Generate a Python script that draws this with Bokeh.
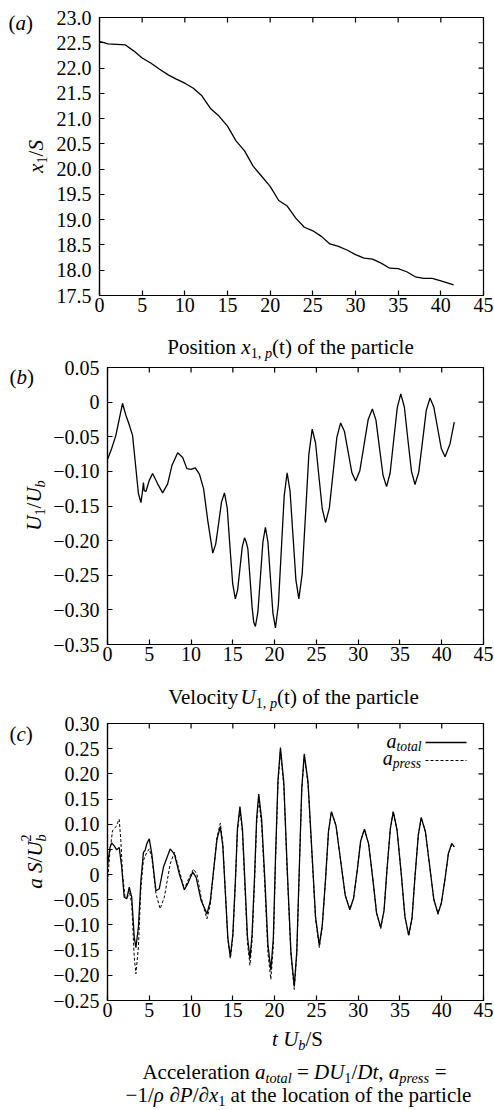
import math
from bokeh.plotting import figure
from bokeh.models import Range1d, FixedTicker, Label, Arrow
from bokeh.embed import file_html
from bokeh.resources import INLINE

FONT = "Liberation Serif"
PAGE_W, PAGE_H = 494, 1110

# ---------------- data ----------------
t_pos = [0, 1, 2, 3, 4, 5, 6, 7, 8, 9, 10, 11, 12, 13, 14, 15, 16, 17, 18, 19, 20,
         21, 22, 23, 24, 25, 26, 27, 28, 29, 30, 31, 32, 33, 34, 35, 36, 37, 38, 39, 40, 41.5]
x_pos = [22.53, 22.48, 22.47, 22.46, 22.34, 22.2, 22.1, 21.98, 21.87, 21.78, 21.7, 21.6,
         21.45, 21.2, 21.05, 20.85, 20.56, 20.36, 20.06, 19.86, 19.66, 19.38, 19.27, 19.03,
         18.85, 18.78, 18.67, 18.52, 18.47, 18.40, 18.31, 18.24, 18.22, 18.14, 18.04, 18.03,
         17.97, 17.87, 17.84, 17.84, 17.79, 17.71]

t_vel = [0, 0.5, 1, 1.5, 1.8, 2.2, 2.5, 3, 3.3, 3.7, 4.0, 4.2, 4.3, 4.4, 4.6, 5, 5.4, 6, 6.6,
         7.2, 7.7, 8.4, 9, 9.5, 10, 10.5, 11, 11.5, 12,
         12.6, 12.95, 13.3, 13.65, 14.0, 14.33, 14.65, 14.98, 15.3, 15.58, 15.85, 16.13, 16.4,
         16.6, 16.8, 17.0, 17.3, 17.5, 17.7, 18.0, 18.3, 18.6, 18.9, 19.2, 19.5, 19.8, 20.1,
         20.45, 20.8, 21.15, 21.5, 21.85, 22.2, 22.55, 22.9, 23.3, 23.7, 24.1, 24.5, 24.9,
         25.3, 25.7, 26.1, 26.55, 27.0, 27.45, 27.9, 28.35, 28.8, 29.25, 29.7, 30.2, 30.7,
         31.2, 31.7, 32.13, 32.55, 32.98, 33.4, 33.83, 34.25, 34.68, 35.1, 35.53, 35.95,
         36.38, 36.8, 37.25, 37.7, 38.15, 38.6, 39.05, 39.5, 39.95, 40.4, 41.0, 41.5]
u_vel = [-0.083, -0.067, -0.048, -0.019, -0.002, -0.019, -0.029, -0.048, -0.084, -0.132,
         -0.145, -0.128, -0.116, -0.128, -0.129, -0.113, -0.103, -0.118, -0.131, -0.118,
         -0.092, -0.073, -0.080, -0.096, -0.097, -0.095, -0.104, -0.125, -0.171,
         -0.218, -0.205, -0.175, -0.144, -0.131, -0.153, -0.208, -0.262, -0.284, -0.271,
         -0.240, -0.209, -0.196, -0.202, -0.212, -0.245, -0.295, -0.318, -0.324, -0.303,
         -0.253, -0.202, -0.181, -0.202, -0.254, -0.305, -0.326, -0.293, -0.214, -0.135,
         -0.102, -0.129, -0.193, -0.257, -0.284, -0.248, -0.162, -0.075, -0.039, -0.059,
         -0.107, -0.154, -0.174, -0.153, -0.102, -0.051, -0.030, -0.042, -0.072, -0.102,
         -0.114, -0.099, -0.062, -0.025, -0.010, -0.026, -0.066, -0.106, -0.122, -0.102,
         -0.055, -0.008, 0.012, -0.007, -0.054, -0.100, -0.119, -0.101, -0.057, -0.012,
         0.006, -0.007, -0.037, -0.067, -0.079, -0.060, -0.029]

t_tot = [0, 0.3, 0.5, 0.8, 1.1, 1.4, 1.7, 2.0, 2.3, 2.6, 2.9, 3.2, 3.4, 3.7, 4.0, 4.3, 4.5,
         4.7, 5.0, 5.3, 5.8, 6.2, 6.7, 7.5, 8.0, 8.6, 9.2, 9.6, 10.2, 10.6, 11.2,
         11.9, 12.3, 12.7, 13.1, 13.5, 13.8, 14.1, 14.4, 14.7, 15.0, 15.3, 15.55, 15.85,
         16.15, 16.45, 16.75, 17.05, 17.3, 17.6, 17.85, 18.1, 18.45, 18.85, 19.2, 19.55,
         19.85, 20.1, 20.4, 20.7, 21.1, 21.5, 21.95, 22.35, 22.65, 22.95, 23.25, 23.55,
         24.0, 24.45, 24.9, 25.35, 25.7, 26.1, 26.45, 26.8, 27.35, 27.9, 28.45, 29.0,
         29.45, 29.9, 30.3, 30.75, 31.25, 31.75, 32.2, 32.7, 33.1, 33.45, 33.85, 34.2,
         34.65, 35.15, 35.6, 36.05, 36.45, 36.8, 37.2, 37.55, 38.05, 38.55, 39.05, 39.55,
         39.95, 40.4, 40.8, 41.2, 41.5]
a_tot = [0.018, 0.054, 0.063, 0.057, 0.049, 0.054, 0.015, -0.045, -0.048, -0.025, -0.045,
         -0.124, -0.145, -0.104, -0.012, 0.044, 0.048, 0.061, 0.071, 0.041, -0.032, -0.028,
         0.015, 0.051, 0.041, 0.001, -0.030, -0.018, 0.005, -0.005, -0.051,
         -0.078, -0.053, 0.009, 0.070, 0.095, 0.057, -0.034, -0.125, -0.163, -0.119,
         -0.014, 0.091, 0.135, 0.091, -0.016, -0.123, -0.167, -0.119, -0.004, 0.112,
         0.160, 0.109, -0.015, -0.139, -0.190, -0.125, 0.031, 0.187, 0.252, 0.183,
         0.015, -0.153, -0.222, -0.154, 0.009, 0.172, 0.240, 0.184, 0.050, -0.084,
         -0.140, -0.101, -0.008, 0.086, 0.125, 0.097, 0.028, -0.041, -0.070, -0.047,
         0.010, 0.067, 0.090, 0.061, -0.008, -0.076, -0.105, -0.071, 0.010, 0.091,
         0.125, 0.089, 0.003, -0.084, -0.120, -0.086, -0.004, 0.079, 0.113, 0.085,
         0.018, -0.049, -0.077, -0.057, -0.008, 0.042, 0.062, 0.055]

t_prs = [0, 0.3, 0.6, 1.0, 1.4, 1.6, 1.8, 2.1, 2.4, 2.6, 2.9, 3.2, 3.4, 3.7, 4.0, 4.3, 4.7,
         5.0, 5.3, 5.8, 6.3, 6.8, 7.5, 8.0, 8.6, 9.2, 9.6, 10.3, 10.7, 11.2,
         11.9, 12.3, 12.7, 13.1, 13.5, 13.8, 14.1, 14.4, 14.7, 15.0, 15.3, 15.55, 15.85,
         16.15, 16.45, 16.75, 17.05, 17.3, 17.6, 17.85, 18.1, 18.45, 18.85, 19.2, 19.55,
         19.85, 20.1, 20.4, 20.7, 21.1, 21.5, 21.95, 22.35, 22.65, 22.95, 23.25, 23.55,
         24.0, 24.45, 24.9, 25.35, 25.7, 26.1, 26.45, 26.8, 27.35, 27.9, 28.45, 29.0,
         29.45, 29.9, 30.3, 30.75, 31.25, 31.75, 32.2, 32.7, 33.1, 33.45, 33.85, 34.2,
         34.65, 35.15, 35.6, 36.05, 36.45, 36.8, 37.2, 37.55, 38.05, 38.55, 39.05, 39.55,
         39.95, 40.4, 40.8, 41.2, 41.5]
a_prs = [-0.015, 0.047, 0.087, 0.095, 0.110, 0.067, 0.001, -0.045, -0.045, -0.032, -0.058,
         -0.164, -0.197, -0.144, -0.025, 0.028, 0.044, 0.051, 0.034, -0.038, -0.068, -0.045,
         0.021, 0.044, 0.008, -0.030, -0.012, 0.011, 0.001, -0.045,
         -0.088, -0.060, 0.007, 0.074, 0.102, 0.063, -0.033, -0.128, -0.167, -0.124,
         -0.020, 0.085, 0.128, 0.083, -0.026, -0.135, -0.180, -0.132, -0.015, 0.102,
         0.150, 0.098, -0.029, -0.156, -0.208, -0.142, 0.019, 0.179, 0.245, 0.176,
         0.009, -0.159, -0.228, -0.160, 0.004, 0.167, 0.235, 0.179, 0.045, -0.089,
         -0.145, -0.105, -0.010, 0.085, 0.125, 0.097, 0.028, -0.041, -0.068, -0.047,
         0.010, 0.067, 0.090, 0.061, -0.008, -0.076, -0.107, -0.071, 0.010, 0.091,
         0.125, 0.089, 0.003, -0.084, -0.122, -0.086, -0.004, 0.079, 0.113, 0.085,
         0.018, -0.049, -0.079, -0.057, -0.008, 0.042, 0.060, 0.055]

x_ticks = [0, 5, 10, 15, 20, 25, 30, 35, 40, 45]
ya_ticks = [17.5, 18.0, 18.5, 19.0, 19.5, 20.0, 20.5, 21.0, 21.5, 22.0, 22.5, 23.0]
ya_labels = ["17.5", "18.0", "18.5", "19.0", "19.5", "20.0", "20.5", "21.0", "21.5",
             "22.0", "22.5", "23.0"]
yb_ticks = [-0.35, -0.3, -0.25, -0.2, -0.15, -0.1, -0.05, 0, 0.05]
yb_labels = ["\u22120.35", "\u22120.30", "\u22120.25", "\u22120.20", "\u22120.15",
             "\u22120.10", "\u22120.05", "0", "0.05"]
yc_ticks = [-0.25, -0.2, -0.15, -0.1, -0.05, 0, 0.05, 0.1, 0.15, 0.2, 0.25, 0.3]
yc_labels = ["\u22120.25", "\u22120.20", "\u22120.15", "\u22120.10", "\u22120.05", "0",
             "0.05", "0.10", "0.15", "0.20", "0.25", "0.30"]

# ---------------- text metrics (Times-compatible) ----------------
RG = {' ': 250, '(': 333, ')': 333, ',': 250, '.': 250, '/': 278, '=': 564, '\u2212': 564,
      '\u2202': 494, 'A': 722, 'D': 722, 'P': 556, 'S': 556, 'U': 722, 'V': 722,
      'a': 444, 'b': 500, 'c': 444, 'd': 500, 'e': 444, 'f': 333, 'g': 500, 'h': 500,
      'i': 278, 'l': 278, 'm': 778, 'n': 500, 'o': 500, 'p': 500, 'r': 333, 's': 389,
      't': 278, 'u': 500, 'v': 500, 'x': 500, 'y': 500}
IT = {' ': 250, 'a': 500, 'b': 500, 'c': 444, 'e': 444, 'l': 278, 'o': 500, 'p': 500,
      'r': 389, 's': 389, 't': 278, 'x': 444, 'D': 722, 'P': 611, 'S': 500, 'U': 722,
      '\u03c1': 500}


def run_w(text, italic, size):
    tab = IT if italic else RG
    return sum(tab.get(c, 500) for c in text) * size / 1000.0


def rich(p, runs, X, Y, size, align="center", vertical=False):
    """Lay out styled runs at page position (X, Y) on the full-page overlay."""
    items = []
    for r in runs:
        text, kind = r[0], r[1]
        adv = r[2] if len(r) > 2 else True
        italic = kind in ("i", "subi")
        sz = size * 0.68 if kind in ("sub", "subi", "sup") else size
        shift = 0.0
        if kind in ("sub", "subi"):
            shift = 0.3 * size
        elif kind == "sup":
            shift = -0.42 * size
        items.append((text, italic, sz, shift, run_w(text, italic, sz), adv))
    W = sum(it[4] for it in items if it[5])
    pos = -W / 2 if align == "center" else (0 if align == "left" else -W)
    for text, italic, sz, shift, w, adv in items:
        lead = len(text) - len(text.lstrip(" "))
        body = text.strip(" ")
        off = run_w(" " * lead, italic, sz)
        if vertical:
            px, py, ang = X + shift, Y - pos - off, math.pi / 2
        else:
            px, py, ang = X + pos + off, Y + shift, 0
        if body:
            p.add_layout(Label(x=px, y=PAGE_H - py, x_units="screen", y_units="screen",
                               text=body, text_font=FONT,
                               text_font_style="italic" if italic else "normal",
                               text_font_size=f"{sz:.1f}px", text_color="black",
                               text_align="left", text_baseline="alphabetic", angle=ang))
        if adv:
            pos += w


def style_axis(ax, ticks, overrides=None, standoff=8):
    ax.ticker = FixedTicker(ticks=ticks)
    ax.axis_line_color = "black"
    ax.axis_line_width = 1.2
    ax.major_tick_in = 5
    ax.major_tick_out = 0
    ax.minor_tick_in = 0
    ax.minor_tick_out = 0
    ax.major_tick_line_color = "black"
    ax.major_tick_line_width = 1.2
    ax.major_label_text_font = FONT
    ax.major_label_text_font_size = "20px"
    ax.major_label_text_color = "black"
    ax.major_label_standoff = standoff
    if overrides:
        ax.major_label_overrides = overrides


def make_fig(yr, top, bl, bt, fw, fh, bb, yticks, ylabels):
    p = figure(x_range=Range1d(0, 45), y_range=Range1d(*yr), frame_width=fw,
               frame_height=fh, min_border_left=bl, min_border_right=PAGE_W - bl - fw,
               min_border_top=bt, min_border_bottom=bb, output_backend="svg",
               toolbar_location=None, tools="",
               styles={"position": "absolute", "top": f"{top}px", "left": "0px"})
    p.outline_line_color = "black"
    p.outline_line_width = 1.2
    p.xgrid.visible = False
    p.ygrid.visible = False
    p.background_fill_color = "white"
    p.border_fill_color = "white"
    style_axis(p.below[0], x_ticks, standoff=2)
    ov = {t: l for t, l in zip(yticks, ylabels)}
    style_axis(p.left[0], yticks, overrides=ov, standoff=8)
    # mirrored inward ticks on the top and right edges
    p.scatter(x_ticks, [yr[1]] * len(x_ticks), marker="dash", angle=math.pi / 2, size=10,
              line_color="black", line_width=1.2)
    p.scatter([45] * len(yticks), yticks, marker="dash", size=10, line_color="black",
              line_width=1.2)
    return p


# ---------------- panels ----------------
pa = make_fig((17.5, 23.0), 0, 99, 17, 384, 278, 45, ya_ticks, ya_labels)
pa.line(t_pos, x_pos, line_color="black", line_width=1.3)

pb = make_fig((-0.35, 0.05), 340, 107, 27, 376, 277, 56, yb_ticks, yb_labels)
pb.line(t_vel, u_vel, line_color="black", line_width=1.3)

pc = make_fig((-0.25, 0.30), 700, 107, 23, 376, 277, 110, yc_ticks, yc_labels)
pc.line(t_prs, a_prs, line_color="black", line_width=1.0, line_dash="3 2")
pc.line(t_tot, a_tot, line_color="black", line_width=1.3)

# ---------------- full-page text overlay ----------------
ov = figure(width=PAGE_W, height=PAGE_H, x_range=Range1d(0, 1), y_range=Range1d(0, 1),
            min_border=0, min_border_left=0, min_border_right=0, min_border_top=0,
            min_border_bottom=0, x_axis_type=None, y_axis_type=None,
            output_backend="svg", toolbar_location=None, tools="",
            styles={"position": "absolute", "top": "0px", "left": "0px", "z-index": "10",
                    "pointer-events": "none"})
ov.outline_line_color = None
ov.background_fill_color = None
ov.border_fill_color = None

rich(ov, [("(", "r"), ("a", "i"), (")", "r")], 8, 22, 21, align="left")
rich(ov, [("x", "i"), ("1", "sub"), ("/", "r"), ("S", "i")], 35, 156, 21, vertical=True)
rich(ov, [("Position ", "r"), ("x", "i"), ("1, ", "sub"), ("p", "subi"),
          ("(t) of the particle", "r")], 290, 346, 21)

rich(ov, [("(", "r"), ("b", "i"), (")", "r")], 9, 376, 21, align="left")
rich(ov, [("U", "i"), ("1", "sub"), ("/", "r"), ("U", "i"), ("b", "subi")], 33, 505, 21,
     vertical=True)
rich(ov, [("Velocity", "r"), ("U", "i"), ("1, ", "sub"), ("p", "subi"),
          ("(t) of the particle", "r")], 293, 696, 21)

rich(ov, [("(", "r"), ("c", "i"), (")", "r")], 9, 733, 21, align="left")
rich(ov, [("a S", "i"), ("/", "r"), ("U", "i"), ("2", "sup", False), ("b", "subi")],
     34, 861, 21, vertical=True)
rich(ov, [("a", "i"), ("total", "subi")], 421, 740, 20, align="right")
rich(ov, [("a", "i"), ("press", "subi")], 421, 757, 20, align="right")
ov.add_layout(Arrow(end=None, x_start=425, y_start=PAGE_H - 742, x_end=466,
                    y_end=PAGE_H - 742, start_units="screen", end_units="screen",
                    line_color="black", line_width=1.3))
ov.add_layout(Arrow(end=None, x_start=425, y_start=PAGE_H - 760, x_end=466,
                    y_end=PAGE_H - 760, start_units="screen", end_units="screen",
                    line_color="black", line_width=1.0, line_dash="3 2"))
rich(ov, [("t U", "i"), ("b", "subi"), ("/S", "r")], 297, 1038, 21)
rich(ov, [("Acceleration ", "r"), ("a", "i"), ("total", "subi"), (" = ", "r"),
          ("DU", "i"), ("1", "sub"), ("/", "r"), ("Dt", "i"), (", ", "r"),
          ("a", "i"), ("press", "subi"), (" =", "r")], 294, 1071, 21)
rich(ov, [("\u22121/", "r"), ("\u03c1", "i"), (" \u2202", "r"), ("P", "i"),
          ("/\u2202", "r"), ("x", "i"), ("1", "sub"),
          (" at the location of the particle", "r")], 298, 1094, 21)

open("out.html", "w").write(file_html([pa, pb, pc, ov], INLINE))
